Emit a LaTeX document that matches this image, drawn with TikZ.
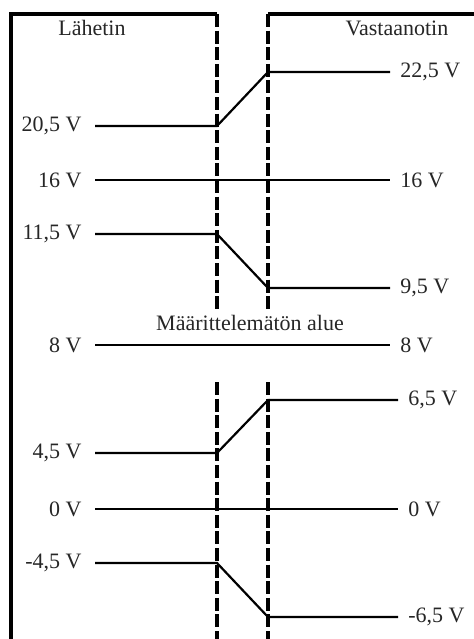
\documentclass[tikz,border=0pt]{standalone}
\usepackage{fontspec}
\setmainfont{Liberation Serif}
\usepackage{tikz}
\usetikzlibrary{positioning}
\tikzset{
  boxline/.style  ={line width=1.6pt, color=black},
  dashline/.style ={line width=1.6pt, color=black, dash pattern=on 6.5pt off 1.8pt},
  level/.style    ={line width=1.1pt, color=black},
  lvl/.style      ={font=\fontsize{11}{13}\selectfont, inner sep=0pt, color=black!85},
  title/.style    ={font=\fontsize{11}{13}\selectfont, inner sep=0pt, color=black!85},
}
\begin{document}
\begin{tikzpicture}[x=0.5pt, y=-0.5pt]
\useasboundingbox (0,0) rectangle (474,639);
% transmitter and receiver boxes
\draw[boxline] (11,639) -- (11,14) -- (217,14);
\draw[boxline] (474,14) -- (268,14);
\foreach \x in {217,268} {
  \draw[dashline] (\x,14) -- (\x,310);
  \draw[dashline] (\x,382) -- (\x,639);
}
\node[title] (lahetin) at (92,28) {Lähetin};
\node[title] (vastaanotin) at (397,28) {Vastaanotin};
\node[title] (undef) at (250,323) {Määrittelemätön alue};
% voltage levels
\foreach \ly/\ry/\lt/\rt/\xe in {
  126/72/{20,5 V}/{22,5 V}/390,
  180/180/{16 V}/{16 V}/390,
  234/288/{11,5 V}/{9,5 V}/390,
  345/345/{8 V}/{8 V}/390,
  453/400/{4,5 V}/{6,5 V}/398,
  509/509/{0 V}/{0 V}/398,
  563/617/{-4,5 V}/{-6,5 V}/398} {
  \coordinate (a\ly) at (95,\ly);
  \coordinate (b\ly) at (217,\ly);
  \coordinate (c\ly) at (268,\ry);
  \coordinate (d\ly) at (\xe,\ry);
  \node[lvl, left=6.5pt of a\ly] (lt\ly) {\lt};
  \node[lvl, right=5pt of d\ly] (rt\ly) {\rt};
  \draw[level] (a\ly) -- (b\ly) -- (c\ly) -- (d\ly);
}
\end{tikzpicture}
\end{document}
